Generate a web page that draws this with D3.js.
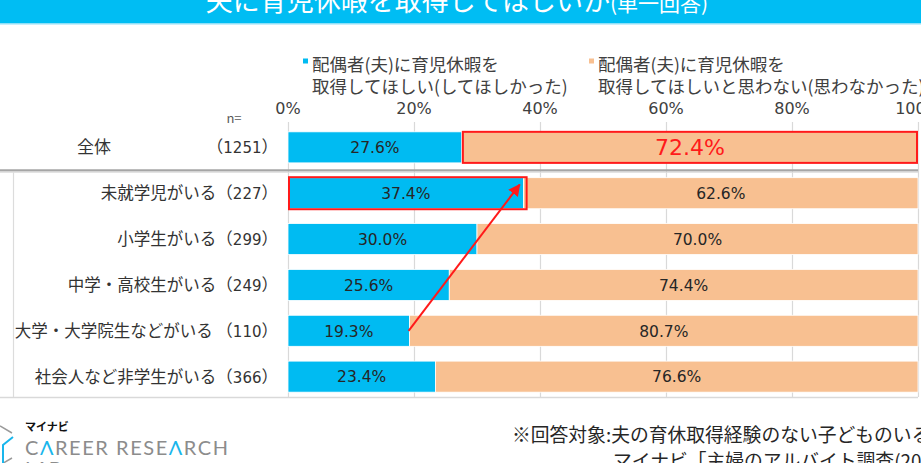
<!DOCTYPE html>
<html>
<head>
<meta charset="utf-8">
<script src="https://cdn.jsdelivr.net/npm/d3@7"></script>
<style>
  html, body { margin: 0; padding: 0; background: #fff; overflow: hidden; }
  svg { display: block; font-family: "Noto Sans CJK JP", "Noto Sans", sans-serif; }
  text { white-space: pre; }
  .num { font-family: "DejaVu Sans", Verdana, sans-serif; }
</style>
</head>
<body>
<div id="chart"></div>
<script>
// data
const categories = ["全体", "未就学児がいる", "小学生がいる", "中学・高校生がいる", "大学・大学院生などがいる ", "社会人など非学生がいる"];
const nCounts = [1251, 227, 299, 249, 110, 366];
const wantValues = [27.6, 37.4, 30.0, 25.6, 19.3, 23.4];
const notWantValues = [72.4, 62.6, 70.0, 74.4, 80.7, 76.6];
const xTicks = [0, 20, 40, 60, 80, 100];
const seriesLabels = [
  ["配偶者(夫)に育児休暇を", "取得してほしい(してほしかった)"],
  ["配偶者(夫)に育児休暇を", "取得してほしいと思わない(思わなかった)"]
];
const title = "夫に育児休暇を取得してほしいか";
const titleNote = "(単一回答)";
const footNote = "※回答対象:夫の育休取得経験のない子どものいる";
const source = "マイナビ「主婦のアルバイト調査(2023)」";

const config = {
  width: 921,
  height: 463,
  blue: "#00bbf2",
  orange: "#f8c091",
  red: "#ff1a1a",
  grid: "#d9d9d9",
  text: "#262626"
};

const rows = categories.map((c, i) => ({
  name: c,
  n: nCounts[i],
  want: wantValues[i],
  notWant: notWantValues[i]
}));

const svg = d3.select("#chart")
  .append("svg")
  .attr("width", config.width)
  .attr("height", config.height);

// title band
svg.append("rect")
  .attr("x", 0).attr("y", 0)
  .attr("width", config.width).attr("height", 23)
  .attr("fill", "#00bdf3");
svg.append("rect")
  .attr("x", 0).attr("y", 23)
  .attr("width", config.width).attr("height", 1.5)
  .attr("fill", "#8fe0f8");
const titleText = svg.append("text")
  .attr("x", 457).attr("y", 11)
  .attr("text-anchor", "middle")
  .attr("fill", "#fff");
titleText.append("tspan").attr("font-size", 27).text(title);
titleText.append("tspan").attr("font-size", 21).text(titleNote);

const x = d3.scaleLinear().domain([0, 100]).range([288, 918]);
const y = d3.scaleBand()
  .domain(categories)
  .range([124.5, 399.5])
  .paddingInner(0.323)
  .paddingOuter(0.16);

// gridlines
svg.append("g")
  .selectAll("line")
  .data(xTicks)
  .join("line")
  .attr("x1", (d) => x(d) + 0.5)
  .attr("x2", (d) => x(d) + 0.5)
  .attr("y1", 122)
  .attr("y2", 397)
  .attr("stroke", config.grid)
  .attr("stroke-width", 1.2);

// tick labels on top
svg.append("g")
  .selectAll("text")
  .data(xTicks)
  .join("text")
  .attr("class", "num")
  .attr("x", (d) => x(d))
  .attr("y", 108)
  .attr("dy", "0.36em")
  .attr("text-anchor", "middle")
  .attr("font-size", 16)
  .attr("fill", "#404040")
  .text((d) => d + "%");

svg.append("text")
  .attr("x", 234).attr("y", 118)
  .attr("dy", "0.35em")
  .attr("text-anchor", "middle")
  .attr("font-size", 13)
  .attr("fill", "#595959")
  .text("n=");

// legend
const legendX = [303, 589];
seriesLabels.forEach((lines, i) => {
  svg.append("rect")
    .attr("x", legendX[i]).attr("y", 58.5)
    .attr("width", 5).attr("height", 5)
    .attr("fill", i === 0 ? config.blue : config.orange);
  svg.append("g")
    .selectAll("text")
    .data(lines)
    .join("text")
    .attr("x", legendX[i] + 9)
    .attr("y", (d, j) => 65 + j * 21.5)
    .attr("dy", "0.35em")
    .attr("font-size", 17.5)
    .attr("fill", "#404040")
    .text((d) => d);
});

// frame lines
const sepY = y(categories[1]) - (y.step() - y.bandwidth()) / 2;
svg.append("line")
  .attr("x1", 0).attr("x2", 918)
  .attr("y1", sepY).attr("y2", sepY)
  .attr("stroke", "#a6a6a6").attr("stroke-width", 2.2);
svg.append("line")
  .attr("x1", 0).attr("x2", 918)
  .attr("y1", sepY + 2).attr("y2", sepY + 2)
  .attr("stroke", "#dcdcdc").attr("stroke-width", 1);
svg.append("line")
  .attr("x1", 13.5).attr("x2", 13.5)
  .attr("y1", sepY + 2).attr("y2", 397)
  .attr("stroke", "#dcdcdc").attr("stroke-width", 1.2);
svg.append("line")
  .attr("x1", 0).attr("x2", 918)
  .attr("y1", 397.5).attr("y2", 397.5)
  .attr("stroke", "#d9d9d9").attr("stroke-width", 1.5);

// bars
const bars = svg.append("g");
bars.selectAll("rect.want")
  .data(rows)
  .join("rect")
  .attr("class", "want")
  .attr("x", x(0))
  .attr("y", (d) => y(d.name))
  .attr("width", (d) => x(d.want) - x(0))
  .attr("height", y.bandwidth())
  .attr("fill", config.blue)
  .attr("stroke", "#fff")
  .attr("stroke-width", 0.8);
bars.selectAll("rect.notwant")
  .data(rows)
  .join("rect")
  .attr("class", "notwant")
  .attr("x", (d) => x(d.want))
  .attr("y", (d) => y(d.name))
  .attr("width", (d) => x(d.want + d.notWant) - x(d.want))
  .attr("height", y.bandwidth())
  .attr("fill", config.orange)
  .attr("stroke", "#fff")
  .attr("stroke-width", 0.8);

// value labels
const yMid = (d) => y(d.name) + y.bandwidth() / 2;
bars.selectAll("text.want")
  .data(rows)
  .join("text")
  .attr("class", "want num")
  .attr("x", (d) => x(d.want / 2))
  .attr("y", yMid)
  .attr("dy", "0.37em")
  .attr("text-anchor", "middle")
  .attr("font-size", 15.5)
  .attr("fill", config.text)
  .text((d) => d.want.toFixed(1) + "%");
bars.selectAll("text.notwant")
  .data(rows)
  .join("text")
  .attr("class", "notwant num")
  .attr("x", (d) => x(d.want + d.notWant / 2))
  .attr("y", yMid)
  .attr("dy", "0.37em")
  .attr("text-anchor", "middle")
  .attr("font-size", (d, i) => (i === 0 ? 22 : 15.5))
  .attr("fill", (d, i) => (i === 0 ? config.red : config.text))
  .text((d) => d.notWant.toFixed(1) + "%");

// category labels, n in brackets
const catLabels = svg.append("g")
  .selectAll("text")
  .data(rows)
  .join("text")
  .attr("x", 278)
  .attr("y", yMid)
  .attr("dy", "0.36em")
  .attr("text-anchor", "end")
  .attr("font-size", 16.5)
  .attr("fill", "#333");
catLabels.append("tspan").text((d, i) => (i === 0 ? "" : d.name) + "（");
catLabels.append("tspan").attr("class", "num").attr("font-size", 15).text((d) => d.n);
catLabels.append("tspan").text("）");
svg.append("text")
  .attr("x", 94)
  .attr("y", yMid(rows[0]))
  .attr("dy", "0.36em")
  .attr("text-anchor", "middle")
  .attr("font-size", 17)
  .attr("fill", "#333")
  .text(rows[0].name);

// highlights
svg.append("rect")
  .attr("x", x(rows[0].want) + 1)
  .attr("y", y(rows[0].name))
  .attr("width", x(100) - x(rows[0].want) - 2)
  .attr("height", y.bandwidth())
  .attr("fill", "none")
  .attr("stroke", config.red)
  .attr("stroke-width", 2);
svg.append("rect")
  .attr("x", x(0) + 1)
  .attr("y", y(rows[1].name) - 0.5)
  .attr("width", x(rows[1].want) - x(0) + 2)
  .attr("height", y.bandwidth() + 1)
  .attr("fill", "none")
  .attr("stroke", config.red)
  .attr("stroke-width", 2);

svg.append("defs")
  .append("marker")
  .attr("id", "arrow")
  .attr("viewBox", "0 0 10 10")
  .attr("refX", 9).attr("refY", 5)
  .attr("markerWidth", 6).attr("markerHeight", 6)
  .attr("orient", "auto")
  .append("path")
  .attr("d", "M0,0L10,5L0,10z")
  .attr("fill", config.red);
svg.append("line")
  .attr("x1", x(rows[4].want) - 1)
  .attr("y1", yMid(rows[4]))
  .attr("x2", x(rows[1].want) - 4)
  .attr("y2", y(rows[1].name) + 7)
  .attr("stroke", config.red)
  .attr("stroke-width", 2)
  .attr("marker-end", "url(#arrow)");

// footer
svg.append("text")
  .attr("x", 512).attr("y", 435)
  .attr("dy", "0.36em")
  .attr("font-size", 18.8)
  .attr("fill", "#262626")
  .text(footNote);
svg.append("text")
  .attr("x", 613).attr("y", 461)
  .attr("dy", "0.36em")
  .attr("font-size", 18.8)
  .attr("fill", "#262626")
  .text(source);

// logo
const logo = svg.append("g");
logo.append("path")
  .attr("d", "M0,426L12,433M12,458L0,465")
  .attr("stroke", "#9a9a9a").attr("stroke-width", 1.5).attr("fill", "none");
logo.append("path")
  .attr("d", "M13,437L3,445L3,463")
  .attr("stroke", "#19b6ec").attr("stroke-width", 2).attr("fill", "none");
logo.append("text")
  .attr("x", 25).attr("y", 431)
  .attr("font-size", 11).attr("font-weight", "bold")
  .attr("fill", "#111")
  .text("マイナビ");
const career = logo.append("text")
  .attr("x", 25).attr("y", 455)
  .attr("font-family", "Lato, 'Open Sans', sans-serif")
  .attr("font-size", 20)
  .attr("fill", "#8c8c8c")
  .attr("textLength", 203)
  .attr("lengthAdjust", "spacing");
[["C", 0], ["Λ", 1], ["REER RESE", 0], ["Λ", 1], ["RCH", 0]].forEach(([t, hi]) => {
  career.append("tspan").attr("fill", hi ? "#19b6ec" : "#8c8c8c").text(t);
});
logo.append("text")
  .attr("x", 25).attr("y", 476)
  .attr("font-family", "Lato, sans-serif")
  .attr("font-size", 20)
  .attr("fill", "#8c8c8c")
  .text("LAB");
</script>
</body>
</html>
